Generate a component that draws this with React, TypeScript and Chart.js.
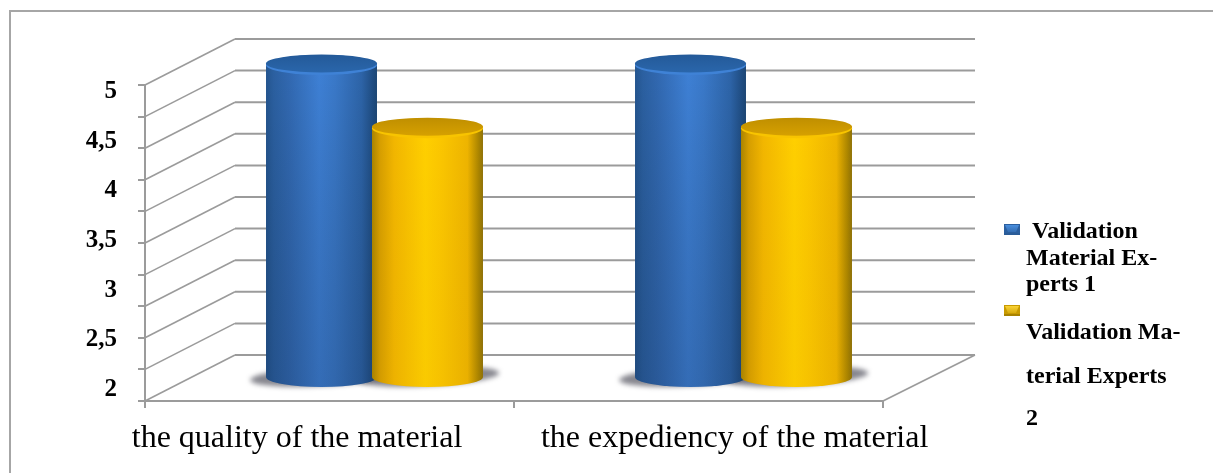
import React, { useEffect, useRef } from "react";
import { Chart, registerables } from "chart.js";

Chart.register(...registerables);

const categories = ["the quality of the material", "the expediency of the material"];
const experts1 = [5, 5];
const experts2 = [4.4, 4.4];
const seriesNames = ["Validation Material Experts 1", "Validation Material Experts 2"];
const yLabelValues = [2, 2.5, 3, 3.5, 4, 4.5, 5];
const xLabelSlots = [0.412, 1.598];

const SERIF = '"Liberation Serif", "Times New Roman", serif';
const GRID = "#9b9b9b";

// Depth of the 3D box, measured from the front plane of the axes.
const DEPTH_X = 90;
const DEPTH_Y = 46;

type Palette = {
  side: string[];
  shade: string;
  cap: string[];
  rim: string;
  chip: string[];
};

const sideStops = [0, 0.07, 0.2, 0.48, 0.62, 0.86, 0.96, 1];

const palettes: Palette[] = [
  {
    side: ["#24558f", "#2b60a1", "#3168b0", "#3e80d5", "#3a79c9", "#2d64a8", "#204e84", "#1d4775"],
    shade: "rgba(12,30,60,0.2)",
    cap: ["#245a99", "#2b68ae"],
    rim: "#3f82d6",
    chip: ["#2b5f9f", "#4c93e4", "#2a5c98"],
  },
  {
    side: ["#aa8400", "#d69e00", "#f2b600", "#ffcf00", "#fbc600", "#eeb400", "#ab8500", "#8f7208"],
    shade: "rgba(120,80,0,0.04)",
    cap: ["#c08f00", "#d9a300"],
    rim: "#f8c400",
    chip: ["#c89a00", "#ffd83a", "#a88200"],
  },
];

function drawCylinder(
  ctx: CanvasRenderingContext2D,
  cx: number,
  top: number,
  bottom: number,
  rx: number,
  ry: number,
  p: Palette
) {
  const left = cx - rx;
  const right = cx + rx;
  const outline = () => {
    ctx.beginPath();
    ctx.moveTo(left, top);
    ctx.lineTo(left, bottom);
    ctx.ellipse(cx, bottom, rx, ry, 0, Math.PI, 0, true);
    ctx.lineTo(right, top);
    ctx.ellipse(cx, top, rx, ry, 0, 0, Math.PI, true);
    ctx.closePath();
  };

  const across = ctx.createLinearGradient(left, 0, right, 0);
  sideStops.forEach((s, i) => across.addColorStop(s, p.side[i]));
  outline();
  ctx.fillStyle = across;
  ctx.fill();

  const down = ctx.createLinearGradient(0, top, 0, bottom + ry);
  down.addColorStop(0, "rgba(0,0,0,0)");
  down.addColorStop(1, p.shade);
  outline();
  ctx.fillStyle = down;
  ctx.fill();

  // Lit rim below the cap, then the cap itself nudged upward inside it.
  ctx.beginPath();
  ctx.ellipse(cx, top, rx, ry, 0, 0, Math.PI * 2);
  ctx.fillStyle = p.rim;
  ctx.fill();
  const capFill = ctx.createLinearGradient(0, top - ry, 0, top + ry);
  capFill.addColorStop(0, p.cap[0]);
  capFill.addColorStop(1, p.cap[1]);
  ctx.beginPath();
  ctx.ellipse(cx, top - 1.5, rx, ry - 1, 0, 0, Math.PI * 2);
  ctx.fillStyle = capFill;
  ctx.fill();
}

function drawChip(ctx: CanvasRenderingContext2D, x: number, y: number, p: Palette) {
  const w = 16;
  const h = 11;
  ctx.fillStyle = p.chip[0];
  ctx.fillRect(x, y, w, h);
  const g = ctx.createLinearGradient(0, y, 0, y + h);
  g.addColorStop(0, p.chip[1]);
  g.addColorStop(1, p.chip[0]);
  ctx.beginPath();
  ctx.moveTo(x + 1, y + 1);
  ctx.lineTo(x + w - 1, y + 1);
  ctx.lineTo(x + w - 4, y + h - 3);
  ctx.lineTo(x + 4, y + h - 3);
  ctx.closePath();
  ctx.fillStyle = g;
  ctx.fill();
  ctx.fillStyle = p.chip[2];
  ctx.fillRect(x, y + h - 2, w, 2);
}

const boxPlugin = {
  id: "box3d",
  beforeDraw(chart: any) {
    const { ctx } = chart;
    // Frame: only the top and left edges are ruled.
    ctx.save();
    ctx.strokeStyle = "#a6a6a6";
    ctx.lineWidth = 2;
    ctx.beginPath();
    ctx.moveTo(chart.width, 11);
    ctx.lineTo(10, 11);
    ctx.lineTo(10, chart.height);
    ctx.stroke();
    ctx.restore();
  },
  beforeDatasetsDraw(chart: any) {
    const { ctx, chartArea: a, scales } = chart;
    const y = scales.y;
    ctx.save();
    ctx.lineCap = "butt";
    y.ticks.forEach((t: any) => {
      const py = y.getPixelForValue(t.value);
      ctx.strokeStyle = GRID;
      ctx.lineWidth = 1.6;
      ctx.beginPath();
      ctx.moveTo(a.left, py);
      ctx.lineTo(a.left + DEPTH_X, py - DEPTH_Y);
      ctx.stroke();
      ctx.lineWidth = 2;
      ctx.beginPath();
      ctx.moveTo(a.left + DEPTH_X, py - DEPTH_Y);
      ctx.lineTo(a.right + DEPTH_X + 2, py - DEPTH_Y);
      ctx.stroke();
    });
    // Right-hand edge of the floor.
    ctx.lineWidth = 1.6;
    ctx.beginPath();
    ctx.moveTo(a.right, a.bottom);
    ctx.lineTo(a.right + DEPTH_X + 2, a.bottom - DEPTH_Y);
    ctx.stroke();
    ctx.restore();
  },
  beforeDatasetDraw() {
    return false;
  },
  afterDatasetsDraw(chart: any) {
    const { ctx } = chart;
    const metas = chart.getSortedVisibleDatasetMetas().slice().sort((m: any, n: any) => m.index - n.index);
    const midX = DEPTH_X / 2;
    const baseRise = DEPTH_Y / 2;
    const topRise = 20;
    const ry = 10;

    ctx.save();
    ctx.filter = "blur(2.5px)";
    ctx.fillStyle = "rgba(88,88,98,0.72)";
    metas.forEach((meta: any) =>
      meta.data.forEach((bar: any) => {
        ctx.beginPath();
        ctx.ellipse(bar.x + midX, bar.base - baseRise - 0.5, bar.width / 2 + 16, ry - 0.5, -0.05, 0, Math.PI * 2);
        ctx.fill();
      })
    );
    ctx.restore();

    ctx.save();
    metas.forEach((meta: any) =>
      meta.data.forEach((bar: any) => {
        drawCylinder(
          ctx,
          bar.x + midX,
          bar.y - topRise,
          bar.base - baseRise,
          bar.width / 2,
          ry,
          palettes[meta.index]
        );
      })
    );
    ctx.restore();

    // Hand-wrapped legend with its uneven line spacing.
    ctx.save();
    drawChip(ctx, 1004, 224, palettes[0]);
    drawChip(ctx, 1004, 305, palettes[1]);
    ctx.font = `bold 24px ${SERIF}`;
    ctx.fillStyle = "#000";
    ctx.textBaseline = "middle";
    ctx.textAlign = "left";
    ctx.fillText("Validation", 1032, 232);
    ctx.fillText("Material Ex-", 1026, 259);
    ctx.fillText("perts 1", 1026, 285);
    ctx.fillText("Validation Ma-", 1026, 333);
    ctx.fillText("terial Experts", 1026, 377);
    ctx.fillText("2", 1026, 419);
    ctx.restore();
  },
};

export default function App() {
  const ref = useRef<HTMLCanvasElement>(null);

  useEffect(() => {
    const chart = new Chart(ref.current as HTMLCanvasElement, {
      type: "bar",
      data: {
        labels: categories,
        datasets: [
          { label: seriesNames[0], data: experts1, base: 2, backgroundColor: "#3b7ccf", xAxisID: "x", yAxisID: "y" },
          { label: seriesNames[1], data: experts2, base: 2, backgroundColor: "#ffcc00", xAxisID: "x", yAxisID: "y" },
        ],
      },
      options: {
        responsive: false,
        animation: false,
        categoryPercentage: 0.5745,
        barPercentage: 1.047,
        layout: { padding: { left: 0, top: 85, right: 330, bottom: 0 } },
        plugins: { legend: { display: false }, tooltip: { enabled: false }, title: { display: false } },
        scales: {
          x: {
            type: "category",
            position: "bottom",
            weight: 0,
            grid: { drawOnChartArea: false, drawTicks: true, tickLength: 7, color: GRID, lineWidth: 2, offset: true },
            border: { color: GRID, width: 2 },
            ticks: { display: false },
            afterFit: (s: any) => {
              s.height = 7;
            },
          },
          xNames: {
            type: "linear",
            position: "bottom",
            weight: 1,
            min: 0,
            max: 2,
            offset: false,
            grid: { display: false, drawTicks: false, offset: false },
            border: { display: false },
            afterBuildTicks: (s: any) => {
              s.ticks = xLabelSlots.map((value) => ({ value }));
            },
            ticks: {
              autoSkip: false,
              maxRotation: 0,
              padding: 11,
              color: "#000",
              font: { family: SERIF, size: 32 },
              callback: (_v: any, i: number) => categories[i],
            },
            afterFit: (s: any) => {
              s.height = 65;
              s.paddingLeft = 0;
              s.paddingRight = 0;
            },
          },
          y: {
            type: "linear",
            position: "left",
            weight: 0,
            min: 2,
            max: 5,
            grid: { drawOnChartArea: false, drawTicks: true, tickLength: 7, color: GRID, lineWidth: 2 },
            border: { color: GRID, width: 2 },
            ticks: { display: false, stepSize: 0.3 },
            afterFit: (s: any) => {
              s.width = 7;
            },
          },
          yNames: {
            type: "linear",
            position: "left",
            weight: 1,
            min: 1.88,
            max: 5.07,
            grid: { display: false, drawTicks: false },
            border: { display: false },
            afterBuildTicks: (s: any) => {
              s.ticks = yLabelValues.map((value) => ({ value }));
            },
            ticks: {
              autoSkip: false,
              padding: 21,
              color: "#000",
              font: { family: SERIF, size: 25, weight: "bold" },
              callback: (v: any) => String(v).replace(".", ","),
            },
            afterFit: (s: any) => {
              s.width = 138;
              s.paddingTop = 0;
              s.paddingBottom = 0;
            },
          },
        },
      },
      plugins: [boxPlugin],
    } as any);
    return () => chart.destroy();
  }, []);

  return (
    <div style={{ position: "fixed", left: 0, top: 0, width: 1213, height: 473, background: "#fff" }}>
      <canvas ref={ref} width={1213} height={473} style={{ display: "block" }} />
    </div>
  );
}
